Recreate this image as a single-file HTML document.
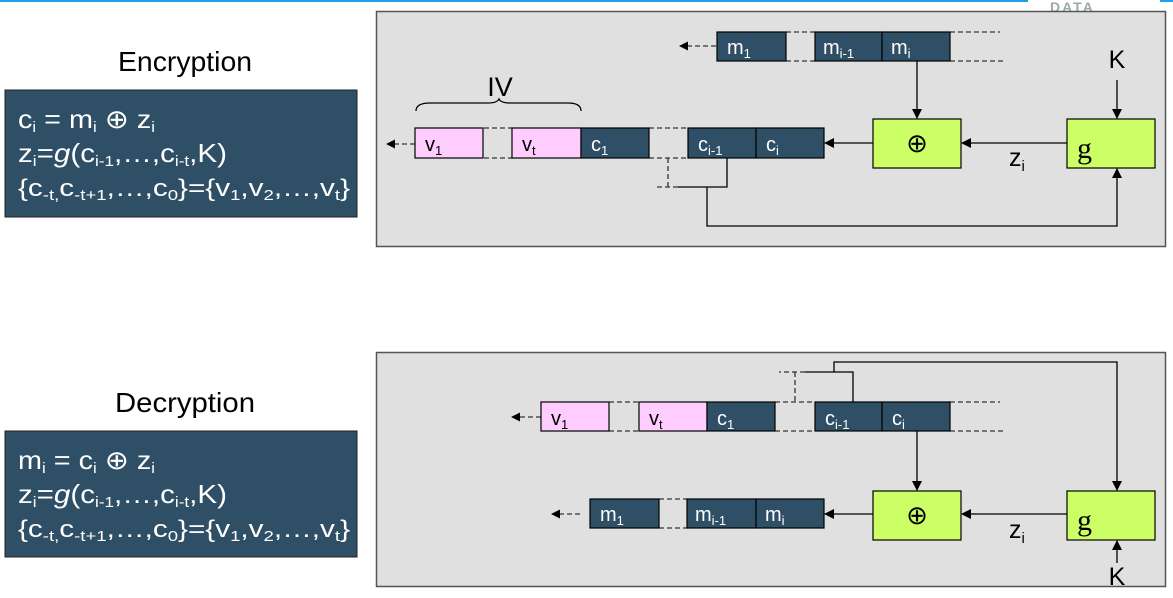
<!DOCTYPE html>
<html><head><meta charset="utf-8"><style>
html,body{margin:0;padding:0;background:#fff;}
svg{display:block;font-family:"Liberation Sans",sans-serif;}
</style></head><body>
<svg width="1173" height="598" viewBox="0 0 1173 598" xmlns="http://www.w3.org/2000/svg">
<defs>
<marker id="a" markerWidth="10" markerHeight="10" refX="9" refY="5" orient="auto" markerUnits="userSpaceOnUse"><path d="M0,0 L10,5 L0,10 z" fill="#000"/></marker>
</defs>
<rect x="0" y="0" width="1028" height="2" fill="#1ea0e6"/>
<rect x="1160" y="0" width="13" height="2" fill="#1ea0e6"/>
<text x="1050" y="12" font-size="14" font-weight="bold" fill="#9aa" letter-spacing="2">DATA</text>

<!-- Left text -->
<text x="185" y="71" font-size="28" text-anchor="middle" fill="#000" textLength="134" lengthAdjust="spacingAndGlyphs">Encryption</text>
<rect x="5" y="90" width="352" height="127" fill="#2f4f66" stroke="#222"/>
<g fill="#fff" font-size="26">
<text x="18" y="128" textLength="137" lengthAdjust="spacingAndGlyphs">c<tspan font-size="15" dy="4">i</tspan><tspan dy="-4"> = m</tspan><tspan font-size="15" dy="4">i</tspan><tspan dy="-4"> ⊕ z</tspan><tspan font-size="15" dy="4">i</tspan></text>
<text x="18" y="162" textLength="209" lengthAdjust="spacingAndGlyphs">z<tspan font-size="15" dy="4">i</tspan><tspan dy="-4">=</tspan><tspan font-style="italic">g</tspan>(c<tspan font-size="15" dy="4">i-1</tspan><tspan dy="-4">,…,c</tspan><tspan font-size="15" dy="4">i-t</tspan><tspan dy="-4">,K)</tspan></text>
<text x="18" y="196" font-size="24" textLength="332" lengthAdjust="spacingAndGlyphs">{c<tspan font-size="15" dy="4">-t,</tspan><tspan dy="-4">c</tspan><tspan font-size="15" dy="4">-t+1</tspan><tspan dy="-4">,…,c</tspan><tspan font-size="15" dy="4">0</tspan><tspan dy="-4">}={v</tspan><tspan font-size="15" dy="4">1</tspan><tspan dy="-4">,v</tspan><tspan font-size="15" dy="4">2</tspan><tspan dy="-4">,…,v</tspan><tspan font-size="15" dy="4">t</tspan><tspan dy="-4">}</tspan></text>
</g>
<text x="185" y="412" font-size="28" text-anchor="middle" fill="#000" textLength="140" lengthAdjust="spacingAndGlyphs">Decryption</text>
<rect x="5" y="431" width="352" height="126" fill="#2f4f66" stroke="#222"/>
<g fill="#fff" font-size="26">
<text x="18" y="469" textLength="137" lengthAdjust="spacingAndGlyphs">m<tspan font-size="15" dy="4">i</tspan><tspan dy="-4"> = c</tspan><tspan font-size="15" dy="4">i</tspan><tspan dy="-4"> ⊕ z</tspan><tspan font-size="15" dy="4">i</tspan></text>
<text x="18" y="503" textLength="209" lengthAdjust="spacingAndGlyphs">z<tspan font-size="15" dy="4">i</tspan><tspan dy="-4">=</tspan><tspan font-style="italic">g</tspan>(c<tspan font-size="15" dy="4">i-1</tspan><tspan dy="-4">,…,c</tspan><tspan font-size="15" dy="4">i-t</tspan><tspan dy="-4">,K)</tspan></text>
<text x="18" y="537" font-size="24" textLength="332" lengthAdjust="spacingAndGlyphs">{c<tspan font-size="15" dy="4">-t,</tspan><tspan dy="-4">c</tspan><tspan font-size="15" dy="4">-t+1</tspan><tspan dy="-4">,…,c</tspan><tspan font-size="15" dy="4">0</tspan><tspan dy="-4">}={v</tspan><tspan font-size="15" dy="4">1</tspan><tspan dy="-4">,v</tspan><tspan font-size="15" dy="4">2</tspan><tspan dy="-4">,…,v</tspan><tspan font-size="15" dy="4">t</tspan><tspan dy="-4">}</tspan></text>
</g>

<!-- Encryption panel -->
<rect x="376.5" y="11.5" width="789" height="235" fill="#e0e0e0" stroke="#555" stroke-width="1.5"/>
<g stroke-dasharray="5,3" stroke="#333" stroke-width="1.3">
<line x1="786" y1="32" x2="815" y2="32"/><line x1="786" y1="61" x2="815" y2="61"/>
<line x1="950" y1="32" x2="1000" y2="32"/><line x1="950" y1="61" x2="1004" y2="61"/>
<line x1="716" y1="46" x2="685" y2="46"/>
<line x1="484" y1="128" x2="513" y2="128"/><line x1="484" y1="158" x2="513" y2="158"/>
<line x1="649" y1="128" x2="688" y2="128"/><line x1="649" y1="158" x2="688" y2="158"/>
<line x1="415" y1="144" x2="392" y2="144"/>
<line x1="668" y1="158" x2="668" y2="187"/><line x1="678" y1="187" x2="655" y2="187"/>
</g>
<path d="M679,46 l9,-4.5 v9 z" fill="#000"/>
<path d="M386,144 l9,-4.5 v9 z" fill="#000"/>
<g stroke="#000" stroke-width="1.2">
<rect x="717" y="32" width="69" height="29" fill="#2f4f66"/>
<rect x="815" y="32" width="67" height="29" fill="#2f4f66"/>
<rect x="882" y="32" width="68" height="29" fill="#2f4f66"/>
<rect x="415" y="128" width="68" height="30" fill="#ffccff"/>
<rect x="512" y="128" width="69" height="30" fill="#ffccff"/>
<rect x="581" y="128" width="68" height="30" fill="#2f4f66"/>
<rect x="688" y="128" width="68" height="30" fill="#2f4f66"/>
<rect x="756" y="128" width="68" height="30" fill="#2f4f66"/>
<rect x="873" y="119" width="88" height="49" fill="#ccff66"/>
<rect x="1067" y="119" width="88" height="49" fill="#ccff66"/>
</g>
<g stroke="#000" stroke-width="1.3" fill="none">
<line x1="917" y1="61" x2="917" y2="118" marker-end="url(#a)"/>
<line x1="1117" y1="80" x2="1117" y2="118" marker-end="url(#a)"/>
<line x1="1067" y1="143" x2="962" y2="143" marker-end="url(#a)"/>
<line x1="873" y1="143" x2="825" y2="143" marker-end="url(#a)"/>
<polyline points="727,158 727,187 678,187"/>
<polyline points="707,187 707,226 1117,226 1117,169" marker-end="url(#a)"/>
<path d="M416,111 Q416,103 430,103 L488,103 Q497,103 499,99 Q501,103 510,103 L568,103 Q581,103 581,111"/>
</g>
<g fill="#fff" font-size="20">
<text x="727" y="54">m<tspan font-size="13" dy="4">1</tspan></text>
<text x="823" y="54">m<tspan font-size="13" dy="4">i-1</tspan></text>
<text x="891" y="54">m<tspan font-size="13" dy="4">i</tspan></text>
<text x="591" y="151">c<tspan font-size="13" dy="4">1</tspan></text>
<text x="698" y="151">c<tspan font-size="13" dy="4">i-1</tspan></text>
<text x="766" y="151">c<tspan font-size="13" dy="4">i</tspan></text>
</g>
<g fill="#000" font-size="20">
<text x="425" y="151">v<tspan font-size="13" dy="4">1</tspan></text>
<text x="522" y="151">v<tspan font-size="13" dy="4">t</tspan></text>
</g>
<text x="500" y="96" font-size="27" text-anchor="middle">IV</text>
<text x="917" y="152" font-size="26" text-anchor="middle">⊕</text>
<text x="1077" y="158" font-size="30" font-family="Liberation Serif,serif">g</text>
<text x="1117" y="68" font-size="25" text-anchor="middle">K</text>
<text x="1009" y="166" font-size="25">z<tspan font-size="15" dy="5">i</tspan></text>

<!-- Decryption panel -->
<rect x="376.5" y="352.5" width="789" height="234" fill="#e0e0e0" stroke="#555" stroke-width="1.5"/>
<g stroke-dasharray="5,3" stroke="#333" stroke-width="1.3">
<line x1="609" y1="402" x2="639" y2="402"/><line x1="609" y1="431" x2="639" y2="431"/>
<line x1="775" y1="402" x2="815" y2="402"/><line x1="775" y1="431" x2="815" y2="431"/>
<line x1="950" y1="402" x2="1000" y2="402"/><line x1="950" y1="431" x2="1004" y2="431"/>
<line x1="541" y1="417" x2="518" y2="417"/>
<line x1="795" y1="372" x2="795" y2="402"/><line x1="805" y1="372" x2="779" y2="372"/>
<line x1="659" y1="499" x2="687" y2="499"/><line x1="659" y1="528" x2="687" y2="528"/>
<line x1="580" y1="514" x2="558" y2="514"/>
</g>
<path d="M511,417 l9,-4.5 v9 z" fill="#000"/>
<path d="M551,514 l9,-4.5 v9 z" fill="#000"/>
<g stroke="#000" stroke-width="1.2">
<rect x="541" y="402" width="68" height="29" fill="#ffccff"/>
<rect x="639" y="402" width="68" height="29" fill="#ffccff"/>
<rect x="707" y="402" width="68" height="29" fill="#2f4f66"/>
<rect x="815" y="402" width="67" height="29" fill="#2f4f66"/>
<rect x="882" y="402" width="68" height="29" fill="#2f4f66"/>
<rect x="590" y="499" width="69" height="29" fill="#2f4f66"/>
<rect x="687" y="499" width="69" height="29" fill="#2f4f66"/>
<rect x="756" y="499" width="68" height="29" fill="#2f4f66"/>
<rect x="873" y="491" width="88" height="49" fill="#ccff66"/>
<rect x="1067" y="491" width="88" height="49" fill="#ccff66"/>
</g>
<g stroke="#000" stroke-width="1.3" fill="none">
<polyline points="853,402 853,372 805,372"/>
<polyline points="834,372 834,362 1117,362 1117,490" marker-end="url(#a)"/>
<line x1="917" y1="431" x2="917" y2="490" marker-end="url(#a)"/>
<line x1="1067" y1="514" x2="962" y2="514" marker-end="url(#a)"/>
<line x1="873" y1="514" x2="825" y2="514" marker-end="url(#a)"/>
<line x1="1117" y1="563" x2="1117" y2="541" marker-end="url(#a)"/>
</g>
<g fill="#000" font-size="20">
<text x="551" y="425">v<tspan font-size="13" dy="4">1</tspan></text>
<text x="649" y="425">v<tspan font-size="13" dy="4">t</tspan></text>
</g>
<g fill="#fff" font-size="20">
<text x="717" y="425">c<tspan font-size="13" dy="4">1</tspan></text>
<text x="825" y="425">c<tspan font-size="13" dy="4">i-1</tspan></text>
<text x="892" y="425">c<tspan font-size="13" dy="4">i</tspan></text>
<text x="600" y="521">m<tspan font-size="13" dy="4">1</tspan></text>
<text x="695" y="521">m<tspan font-size="13" dy="4">i-1</tspan></text>
<text x="765" y="521">m<tspan font-size="13" dy="4">i</tspan></text>
</g>
<text x="917" y="524" font-size="26" text-anchor="middle">⊕</text>
<text x="1077" y="530" font-size="30" font-family="Liberation Serif,serif">g</text>
<text x="1117" y="585" font-size="25" text-anchor="middle">K</text>
<text x="1009" y="538" font-size="25">z<tspan font-size="15" dy="5">i</tspan></text>
</svg>
</body></html>
